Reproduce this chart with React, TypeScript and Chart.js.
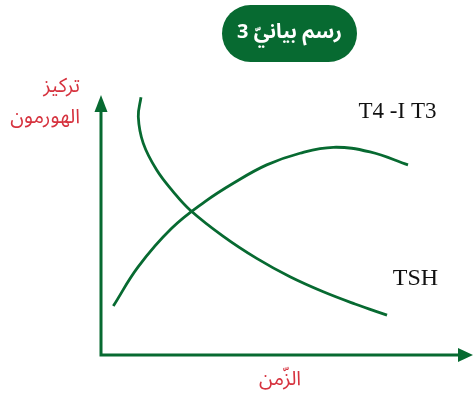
import React, { useEffect, useRef } from "react";
import { Chart, registerables } from "chart.js";

Chart.register(...registerables);

// Hormone concentration curves (arbitrary units, time 0–100, concentration 0–100)
const tshTime = [11.14, 10.39, 11.78, 15.52, 20.14, 24.79, 34.07, 43.37, 52.65, 61.92, 70.75, 79.67];
const tshConc = [99.5, 92.0, 81.7, 71.4, 63.0, 56.0, 45.8, 37.3, 30.2, 24.4, 19.7, 15.4];
const t3t4Time = [3.43, 10.39, 19.69, 28.97, 36.85, 46.16, 55.43, 64.71, 74.93, 85.52];
const t3t4Conc = [18.9, 34.1, 48.9, 59.2, 66.3, 73.4, 77.9, 80.2, 78.4, 73.4];

const titleText = "رسم بيانيّ 3";
const yLabelLines = ["تركيز", "الهورمون"];
const xLabelText = "الزّمن";
const t3t4Label = "T4 -I T3";
const tshLabel = "TSH";

const GREEN = "#076a31";
const RED = "#d6323e";
const AR_FONT = '"Noto Sans Arabic", "DejaVu Sans", "Noto Sans", sans-serif';
const SERIF = '"Liberation Serif", "DejaVu Serif", serif';

const toPoints = (xs: number[], ys: number[]) => xs.map((x, i) => ({ x, y: ys[i] }));

const decorPlugin = {
  id: "decor",
  afterDraw(chart: any) {
    const ctx = chart.ctx as CanvasRenderingContext2D;
    const xs = chart.scales.x;
    const ys = chart.scales.y;
    const ox = xs.getPixelForValue(0);
    const oy = ys.getPixelForValue(0);
    const top = ys.getPixelForValue(100);
    const right = chart.width;
    ctx.save();
    // axes
    ctx.strokeStyle = GREEN;
    ctx.fillStyle = GREEN;
    ctx.lineWidth = 3;
    ctx.beginPath();
    ctx.moveTo(ox, top + 14);
    ctx.lineTo(ox, oy);
    ctx.lineTo(right - 14, oy);
    ctx.stroke();
    // y arrow
    ctx.beginPath();
    ctx.moveTo(ox, top - 1);
    ctx.lineTo(ox - 6.5, top + 16);
    ctx.lineTo(ox + 6.5, top + 16);
    ctx.closePath();
    ctx.fill();
    // x arrow
    ctx.beginPath();
    ctx.moveTo(right, oy);
    ctx.lineTo(right - 15, oy - 7);
    ctx.lineTo(right - 15, oy + 7);
    ctx.closePath();
    ctx.fill();

    // title pill
    ctx.beginPath();
    (ctx as any).roundRect(222, 5, 135, 57, 28.5);
    ctx.fillStyle = GREEN;
    ctx.fill();
    ctx.fillStyle = "#ffffff";
    ctx.font = `bold 20px ${AR_FONT}`;
    ctx.textAlign = "center";
    ctx.textBaseline = "middle";
    ctx.direction = "rtl";
    ctx.fillText(titleText, 289.5, 35);

    // y label
    ctx.fillStyle = RED;
    ctx.font = `20px ${AR_FONT}`;
    ctx.textAlign = "right";
    ctx.textBaseline = "alphabetic";
    ctx.fillText(yLabelLines[0], 80, 92);
    ctx.fillText(yLabelLines[1], 80, 123);

    // x label
    ctx.textAlign = "center";
    ctx.fillText(xLabelText, 280, 385);

    // series labels
    ctx.direction = "ltr";
    ctx.fillStyle = "#111111";
    ctx.font = `23px ${SERIF}`;
    ctx.textAlign = "center";
    ctx.fillText(t3t4Label, 397.5, 118);
    ctx.font = `24px ${SERIF}`;
    ctx.fillText(tshLabel, 415.5, 285);
    ctx.restore();
  },
};

export default function App() {
  const ref = useRef<HTMLCanvasElement | null>(null);
  useEffect(() => {
    if (!ref.current) return;
    const chart = new Chart(ref.current, {
      type: "scatter",
      data: {
        datasets: [
          {
            label: tshLabel,
            data: toPoints(tshTime, tshConc),
            showLine: true,
            borderColor: GREEN,
            borderWidth: 2.8,
            pointRadius: 0,
            tension: 0.4,
            clip: false as any,
          },
          {
            label: t3t4Label,
            data: toPoints(t3t4Time, t3t4Conc),
            showLine: true,
            borderColor: GREEN,
            borderWidth: 2.8,
            pointRadius: 0,
            tension: 0.4,
            clip: false as any,
          },
        ],
      },
      options: {
        animation: false,
        responsive: true,
        maintainAspectRatio: false,
        layout: { padding: { left: 101, right: 13, top: 96, bottom: 39 } },
        plugins: { legend: { display: false }, tooltip: { enabled: false } },
        scales: {
          x: { type: "linear", min: 0, max: 100, display: false },
          y: { type: "linear", min: 0, max: 100, display: false },
        },
      },
      plugins: [decorPlugin],
    });
    return () => chart.destroy();
  }, []);
  return (
    <div style={{ position: "absolute", left: 0, top: 0, width: 473, height: 394, background: "#ffffff" }}>
      <canvas ref={ref} />
    </div>
  );
}
